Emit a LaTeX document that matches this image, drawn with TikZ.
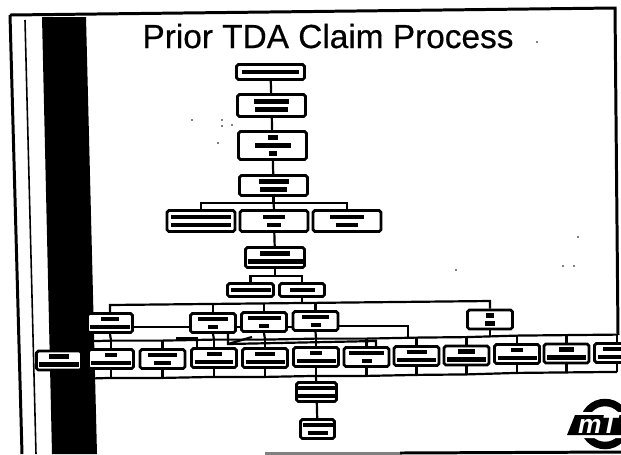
\documentclass[tikz,border=0pt]{standalone}
\usepackage{fontspec}
\setmainfont{Liberation Sans}
\newfontfamily\titlefont[FakeBold=.5]{Liberation Sans}
\usetikzlibrary{positioning}
\newcommand{\blot}[2]{\rule{#1cm}{.095cm}\\\rule{#2cm}{.095cm}}
\newcommand{\blotone}[1]{\rule{#1cm}{.095cm}}
\tikzset{
    mybox/.style = {rectangle, rounded corners=1pt, line width=1.6pt, draw=black, align=center, fill=white, inner sep=0pt, font=\fontsize{4}{4.6}\selectfont},
    mybigbox/.style = {mybox, minimum width=1.36cm, minimum height=.42cm},
    mysmallbox/.style = {mybox, minimum width=.9cm, minimum height=.38cm},
    edgen/.style = {-,line width=1.25pt,black},
    framen/.style = {-,line width=1.7pt,black},
    speck/.style = {circle, fill=black, inner sep=0pt, minimum size=.035cm}
}

\begin{document}
\begin{tikzpicture}[x=0.02cm,y=-0.02cm]
\path[use as bounding box] (0,0) rectangle (621,454);
% frame
\fill[black] (42,17) -- (86,17) -- (97,454) -- (52,454) -- cycle;
\draw[framen] (10,15) -- (22,454);
\draw[framen,line width=.9pt] (25,20) -- (36,454);
\draw[framen] (10,15) -- (615,8) -- (618,335);
\draw[framen,gray] (265,453) -- (400,453);
\draw[framen] (400,453) -- (621,452);
%
\node[font=\titlefont\fontsize{19}{22}\selectfont, anchor=base] at (328,48) (title) {Prior TDA Claim Process};
\foreach \x/\y in {537/42,192/120,222/120,222/126,232/125,218/143,456/270,563/266,574/266,578/237}
    \node[speck] at (\x,\y) {};
%
\node[mybigbox, minimum height=.3cm] at (270.5,72) (a) {\blotone{1.15}};
\node[mybigbox, minimum height=.44cm] at (271.5,105.5) (b) {\blot{.7}{.66}};
\node[mybigbox, minimum height=.56cm] at (272.5,145.5) (c) {\blotone{.2}\\\blotone{.72}\\\blotone{.16}};
\node[mybigbox, minimum height=.4cm] at (273.5,185.5) (d) {\blot{.6}{.55}};
\node[mybigbox] at (201,221) (e) {\blot{1.2}{1.2}};
\node[mybigbox] at (274,221) (f) {\blot{.45}{.28}};
\node[mybigbox] at (347,221) (g) {\blot{.68}{.45}};
\node[mybox, minimum width=1.18cm, minimum height=.4cm] at (275,257.5) (h) {\blot{.6}{1.1}};
\node[mybox, minimum width=.92cm, minimum height=.26cm] at (250.5,290) (i) {\blotone{.8}};
\node[mybox, minimum width=.9cm, minimum height=.26cm] at (302,290) (j) {\blotone{.5}};
%
\node[mysmallbox] at (110,323) (k1) {\blot{.35}{.8}};
\node[mysmallbox] at (213,323) (k2) {\blot{.6}{.2}};
\node[mysmallbox] at (264,322) (k3) {\blot{.66}{.2}};
\node[mysmallbox] at (315.5,321) (k4) {\blot{.55}{.2}};
\node[mysmallbox] at (490,319.5) (k5) {\blot{.15}{.2}};
%
\node[mysmallbox] at (59,360.5) (m0) {\blot{.4}{.8}};
\node[mysmallbox] at (111,359) (m1) {\blot{.25}{.8}};
\node[mysmallbox] at (162.5,359) (m2) {\blot{.6}{.35}};
\node[mysmallbox] at (214,358) (m3) {\blot{.3}{.78}};
\node[mysmallbox] at (265,358) (m4) {\blot{.4}{.78}};
\node[mysmallbox] at (316,357) (m5) {\blot{.25}{.78}};
\node[mysmallbox] at (366.5,357) (m6) {\blot{.7}{.2}};
\node[mysmallbox] at (416.5,356) (m7) {\blot{.4}{.78}};
\node[mysmallbox] at (466.5,355.5) (m8) {\blot{.35}{.78}};
\node[mysmallbox] at (517,354) (m9) {\blot{.25}{.78}};
\node[mysmallbox] at (566.5,353.5) (m10) {\blot{.3}{.78}};
\node[mysmallbox] at (617,353) (m11) {\blot{.55}{.78}};
%
\node[mysmallbox, minimum width=.8cm] at (316.5,392) (p) {\blot{.75}{.75}};
\node[mysmallbox, minimum width=.68cm] at (317.5,429) (q) {\blot{.6}{.4}};
%
\draw[edgen] (a) -- (b);
\draw[edgen] (b) -- (c);
\draw[edgen] (c) -- (d);
\coordinate (dbus) at (273.5,203);
\draw[edgen] (d) -- (dbus);
\draw[edgen] (e.north) |- (dbus) -| (g.north);
\draw[edgen] (f.north) -- (dbus);
\draw[edgen] (f) -- (h);
\coordinate (hbus) at (275,276);
\draw[edgen] (h) -- (hbus);
\draw[edgen] (i.north) |- (hbus) -| (j.north);
% upper bus
\coordinate (kbusl) at (110,305);
\coordinate (kbusr) at (490,301);
\coordinate (jbus) at (302,303);
\draw[edgen] (j) -- (jbus);
\draw[edgen] (k1.north) -- (kbusl) -- (jbus) -- (kbusr) -- (k5.north);
\draw[edgen] (k2.north) -- (k2.north |- jbus);
\draw[edgen] (k3.north) -- (k3.north |- jbus);
\draw[edgen] (k4.north) -- (k4.north |- jbus);
\coordinate (linka) at (160,327);
\draw[edgen] (k1.east |- linka) -- (k2.west |- linka);
\draw[edgen] (k2.east |- linka) -- (k3.west |- linka);
\draw[edgen] (k3.east |- linka) -- (k4.west |- linka);
\coordinate (linkb) at (408,326);
\foreach \n in {m0,m1,m2,m3,m4,m5,m6,m7,m8,m9,m10,m11} {
    \path (\n.north) ++(0,-7.5) coordinate (top\n);
    \path (\n.south) ++(0,8) coordinate (bot\n);
    \draw[edgen] (\n.north) -- (top\n);
    \draw[edgen] (\n.south) -- (bot\n);
}
\draw[edgen] (topm0) -- (topm1) -- (topm2) -- (topm3) -- (topm4) -- (topm5) -- (topm6) -- (topm7) -- (topm8) -- (topm9) -- (topm10) -- (topm11);
\draw[edgen] (botm0) -- (botm1) -- (botm2) -- (botm3) -- (botm4) -- (botm5) -- (botm6) -- (botm7) -- (botm8) -- (botm9) -- (botm10) -- (botm11);
\draw[edgen] (k1.south) -- (topm1);
\draw[edgen] (k2.south) -- (topm3);
\draw[edgen] (k3.south) -- (topm4);
\draw[edgen] (k4.south) -- (topm5);
\draw[edgen] (k5.south) -- (k5.south |- topm9);
\draw[edgen] (k4.east |- linkb) -- (linkb) -- (linkb |- topm7);
% side links
\coordinate (sa) at (177,338);
\coordinate (sb) at (197,338);
\coordinate (sc) at (228,333);
\coordinate (sd) at (228,344);
\coordinate (se) at (376,341);
\coordinate (sf) at (252,337);
\draw[edgen] (sa |- topm2) -- (sa) -- (sb) -- (sb |- m3.north);
\draw[edgen] (sc) -- (sd) -- (se) -- (se |- m6.north);
\draw[edgen] (sd) -- (sf);
%
\draw[edgen] (botm5) -- (p);
\draw[edgen] (p) -- (q);
% logo
\draw[black, line width=.15cm] (605,424) circle [radius=.43cm];
\fill[white] (570,438) -- (577,412) -- (621,412) -- (621,438) -- cycle;
\fill[black] (567,435) -- (575,415) -- (621,415) -- (621,435) -- cycle;
\node[text=white, font=\fontsize{15}{15}\selectfont\bfseries\itshape] at (598,424) (logo) {mT};
\end{tikzpicture}
\end{document}
